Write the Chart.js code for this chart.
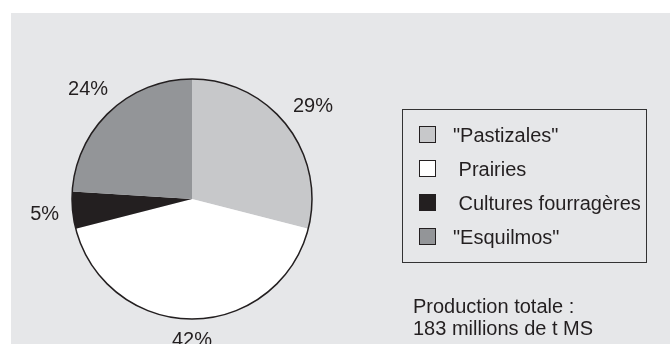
<!DOCTYPE html>
<html>
<head>
<meta charset="utf-8">
<script src="https://cdn.jsdelivr.net/npm/chart.js@4"></script>
<style>
  html, body { margin: 0; padding: 0; background: #ffffff; }
  #wrap { width: 670px; height: 344px; }
</style>
</head>
<body>
<div id="wrap"><canvas id="pie" width="670" height="344"></canvas></div>
<script>
// --- Datos ---
const categories = ['"Pastizales"', ' Prairies', ' Cultures fourragères', '"Esquilmos"'];
const shares = [29, 42, 5, 24];
const sliceColors = ['#c7c8ca', '#ffffff', '#231f20', '#939598'];
const noteLines = ['Production totale :', '183 millions de t MS'];

const FONT = '20px "Liberation Sans", Arial, Helvetica, sans-serif';
const INK = '#231f20';

// fondo gris del recuadro
const panelBackground = {
    id: 'panelBackground',
    beforeDraw(chart) {
        const ctx = chart.ctx;
        ctx.save();
        ctx.fillStyle = '#e6e7e9';
        ctx.fillRect(11, 13, chart.width - 11, chart.height - 13);
        ctx.restore();
    }
};

// contorno, porcentajes, leyenda y nota
const pieExtras = {
    id: 'pieExtras',
    afterDatasetsDraw(chart) {
        const ctx = chart.ctx;
        const arcs = chart.getDatasetMeta(0).data;
        const first = arcs[0];

        ctx.save();
        // contorno exterior solamente
        ctx.beginPath();
        ctx.arc(first.x, first.y, first.outerRadius, 0, Math.PI * 2);
        ctx.lineWidth = 1.5;
        ctx.strokeStyle = INK;
        ctx.stroke();

        // etiquetas de porcentaje
        ctx.font = FONT;
        ctx.fillStyle = INK;
        ctx.textAlign = 'center';
        ctx.textBaseline = 'alphabetic';
        arcs.forEach((arc, i) => {
            const text = shares[i] + '%';
            const mid = (arc.startAngle + arc.endAngle) / 2;
            const dx = Math.cos(mid), dy = Math.sin(mid);
            const w = ctx.measureText(text).width;
            const extent = Math.abs(dx) * w / 2 + Math.abs(dy) * 7;
            const dist = arc.outerRadius + 13 + extent;
            ctx.fillText(text, arc.x + dx * dist, arc.y + dy * dist + 7);
        });

        // leyenda con recuadro
        ctx.lineWidth = 1;
        ctx.strokeStyle = '#333333';
        ctx.strokeRect(402.5, 109.5, 244, 153);
        ctx.textAlign = 'left';
        categories.forEach((label, i) => {
            const cy = 134 + 34 * i;
            ctx.fillStyle = sliceColors[i];
            ctx.fillRect(419, cy - 8, 17, 17);
            ctx.strokeStyle = INK;
            ctx.strokeRect(419.5, cy - 7.5, 16, 16);
            ctx.fillStyle = INK;
            ctx.fillText(label, 453, cy + 8);
        });

        // nota de producción
        noteLines.forEach((line, i) => {
            ctx.fillText(line, 413, 313 + 22 * i);
        });
        ctx.restore();
    }
};

new Chart(document.getElementById('pie'), {
    type: 'pie',
    data: {
        labels: categories,
        datasets: [{
            data: shares,
            backgroundColor: sliceColors,
            borderWidth: 0
        }]
    },
    options: {
        responsive: false,
        animation: false,
        layout: { padding: { left: 72, right: 358, top: 79, bottom: 25 } },
        plugins: {
            legend: { display: false },
            tooltip: { enabled: false }
        }
    },
    plugins: [panelBackground, pieExtras]
});
</script>
</body>
</html>
